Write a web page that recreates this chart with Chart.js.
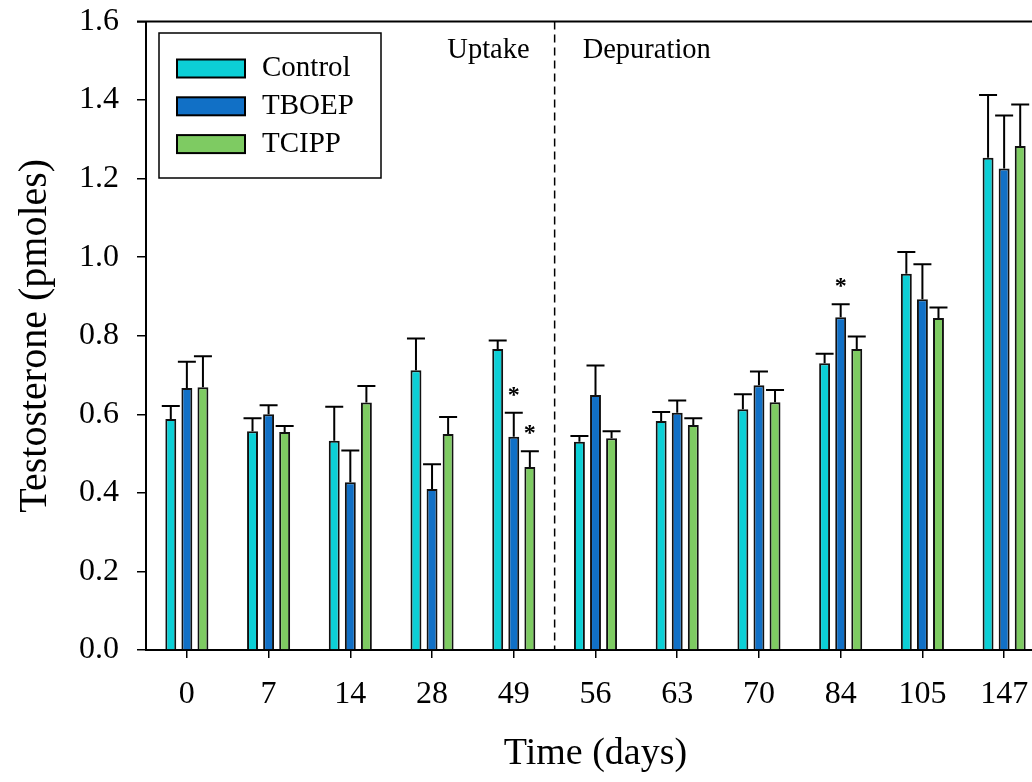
<!DOCTYPE html>
<html lang="en">
<head>
    <meta charset="UTF-8">
    <title>Testosterone over time</title>
    <script src="https://cdn.jsdelivr.net/npm/chart.js"></script>
    <style>
        html, body { margin: 0; padding: 0; background: #fff; overflow: hidden; }
    </style>
</head>
<body>
    <canvas id="testosteroneChart" width="1060" height="782"></canvas>

    <script>
        // Data (pmoles), error = upper error bar length
        const days = ['0', '7', '14', '28', '49', '56', '63', '70', '84', '105', '147'];
        const control = [0.588, 0.557, 0.533, 0.712, 0.766, 0.530, 0.583, 0.613, 0.730, 0.958, 1.253];
        const controlErr = [0.033, 0.033, 0.086, 0.081, 0.022, 0.015, 0.023, 0.038, 0.024, 0.055, 0.160];
        const tboep = [0.667, 0.600, 0.427, 0.410, 0.543, 0.649, 0.604, 0.674, 0.847, 0.893, 1.226];
        const tboepErr = [0.067, 0.023, 0.081, 0.063, 0.061, 0.075, 0.031, 0.035, 0.033, 0.089, 0.135];
        const tcipp = [0.669, 0.555, 0.630, 0.550, 0.466, 0.539, 0.573, 0.631, 0.766, 0.845, 1.283];
        const tcippErr = [0.079, 0.015, 0.042, 0.043, 0.040, 0.018, 0.017, 0.031, 0.032, 0.027, 0.106];
        // days marked with * (significant vs control)
        const controlSig = [];
        const tboepSig = ['49', '84'];
        const tcippSig = ['49'];
        const yTicks = [0, 0.2, 0.4, 0.6, 0.8, 1.0, 1.2, 1.4, 1.6];
        const phaseLabels = ['Uptake', 'Depuration'];
        const phaseSplitAfter = '49';

        const serif = "'Liberation Serif', 'Times New Roman', serif";
        Chart.defaults.color = '#000';
        Chart.defaults.font.family = serif;

        // error bars, stars, phase line, legend and top frame
        const overlay = {
            id: 'overlay',
            afterDatasetsDraw(chart) {
                const { ctx, chartArea, scales } = chart;
                const x = scales.x, y = scales.y;
                ctx.save();

                // top frame line
                ctx.strokeStyle = '#000';
                ctx.lineWidth = 2;
                ctx.beginPath();
                ctx.moveTo(chartArea.left - 9, chartArea.top);
                ctx.lineTo(chartArea.right, chartArea.top);
                ctx.stroke();

                // error bars + stars
                chart.data.datasets.forEach((ds, di) => {
                    const meta = chart.getDatasetMeta(di);
                    meta.data.forEach((bar, i) => {
                        const top = y.getPixelForValue(ds.data[i] + ds.err[i]);
                        ctx.strokeStyle = '#000';
                        ctx.lineWidth = 2;
                        ctx.beginPath();
                        ctx.moveTo(bar.x, bar.y);
                        ctx.lineTo(bar.x, top);
                        ctx.moveTo(bar.x - 9, top);
                        ctx.lineTo(bar.x + 9, top);
                        ctx.stroke();
                        if (ds.sig.includes(days[i])) {
                            ctx.fillStyle = '#000';
                            ctx.font = 'bold 24px ' + serif;
                            ctx.textAlign = 'center';
                            ctx.textBaseline = 'alphabetic';
                            ctx.fillText('*', bar.x, top - 11);
                        }
                    });
                });

                // dashed phase separator
                const idx = days.indexOf(phaseSplitAfter);
                const sx = (x.getPixelForValue(idx) + x.getPixelForValue(idx + 1)) / 2;
                ctx.strokeStyle = '#000';
                ctx.lineWidth = 1.5;
                ctx.setLineDash([8, 5]);
                ctx.beginPath();
                ctx.moveTo(sx, chartArea.top);
                ctx.lineTo(sx, chartArea.bottom);
                ctx.stroke();
                ctx.setLineDash([]);

                ctx.fillStyle = '#000';
                ctx.font = '28.5px ' + serif;
                ctx.textBaseline = 'alphabetic';
                ctx.textAlign = 'right';
                ctx.fillText(phaseLabels[0], sx - 25, 58);
                ctx.textAlign = 'left';
                ctx.fillText(phaseLabels[1], sx + 28, 58);

                // legend box
                const lx = chartArea.left + 13, ly = chartArea.top + 11.5;
                ctx.lineWidth = 1.5;
                ctx.strokeStyle = '#000';
                ctx.strokeRect(lx, ly, 222, 145);
                chart.data.datasets.forEach((ds, di) => {
                    const cy = ly + 35.5 + di * 37.8;
                    ctx.fillStyle = ds.backgroundColor;
                    ctx.fillRect(lx + 18, cy - 9, 68, 18);
                    ctx.lineWidth = 2;
                    ctx.strokeRect(lx + 18, cy - 9, 68, 18);
                    ctx.fillStyle = '#000';
                    ctx.font = '29px ' + serif;
                    ctx.textAlign = 'left';
                    ctx.textBaseline = 'middle';
                    ctx.fillText(ds.label, lx + 103, cy);
                });

                ctx.restore();
            }
        };

        const barStyle = { borderColor: '#111', borderWidth: 2, borderSkipped: 'start',
                           categoryPercentage: 0.59, barPercentage: 0.68 };

        new Chart(document.getElementById('testosteroneChart'), {
            type: 'bar',
            data: {
                labels: days,
                datasets: [
                    { label: 'Control', data: control, err: controlErr, sig: controlSig, backgroundColor: '#0ccfd6', ...barStyle },
                    { label: 'TBOEP', data: tboep, err: tboepErr, sig: tboepSig, backgroundColor: '#1170c6', ...barStyle },
                    { label: 'TCIPP', data: tcipp, err: tcippErr, sig: tcippSig, backgroundColor: '#7ecb62', ...barStyle }
                ]
            },
            options: {
                responsive: false,
                animation: false,
                layout: { padding: { top: 21.5, right: 15, bottom: 0, left: 0 } },
                plugins: { legend: { display: false }, tooltip: { enabled: false } },
                scales: {
                    x: {
                        afterFit(scale) { scale.height = 132; scale.paddingLeft = 0; scale.paddingRight = 0; },
                        grid: { offset: false, drawOnChartArea: false, drawTicks: true, tickLength: 8, color: '#000', lineWidth: 1.5 },
                        border: { display: true, color: '#000', width: 2 },
                        ticks: { padding: 17, font: { size: 32 }, maxRotation: 0 },
                        title: { display: true, text: 'Time (days)', font: { size: 38 }, padding: { top: 0, bottom: 5 } }
                    },
                    y: {
                        min: 0,
                        max: 1.6,
                        afterFit(scale) { scale.width = 146; scale.paddingTop = 0; scale.paddingBottom = 0; },
                        afterBuildTicks(scale) { scale.ticks = yTicks.map(v => ({ value: v })); },
                        grid: { drawOnChartArea: false, drawTicks: true, tickLength: 9, color: '#000', lineWidth: 1.5 },
                        border: { display: true, color: '#000', width: 2 },
                        ticks: { padding: 18, font: { size: 32 }, callback: v => v.toFixed(1) },
                        title: { display: true, text: 'Testosterone (pmoles)', font: { size: 40 }, padding: { top: 11, bottom: 0 } }
                    }
                }
            },
            plugins: [overlay]
        });
    </script>
</body>
</html>
